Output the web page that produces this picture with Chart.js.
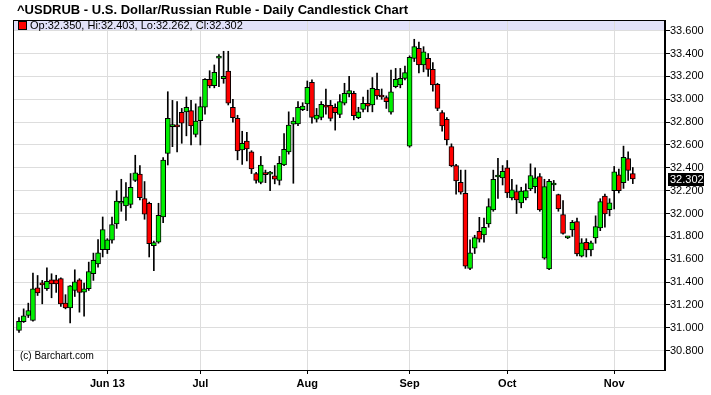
<!DOCTYPE html>
<html>
<head>
<meta charset="utf-8">
<script src="https://cdn.jsdelivr.net/npm/chart.js@4"></script>
<style>
html,body{margin:0;padding:0;background:#fff;}
#wrap{width:711px;height:395px;position:relative;}
</style>
</head>
<body>
<div id="wrap"><canvas id="c" width="711" height="395"></canvas></div>
<script>
// ---- data (daily candles, index 0 = first trading day shown) ----
const open = [30.977,31.053,31.108,31.064,31.35,31.38,31.342,31.42,31.42,31.43,
31.216,31.175,31.327,31.42,31.312,31.342,31.473,31.56,31.683,31.683,
31.766,31.91,32.09,32.067,32.08,32.29,32.345,32.13,32.09,31.72,
31.75,31.97,32.527,32.76,32.76,32.886,32.89,32.9,32.693,32.812,
32.93,33.175,33.12,33.36,33.18,33.247,32.93,32.833,32.556,32.635,
32.54,32.35,32.273,32.355,32.345,32.33,32.29,32.425,32.54,32.783,
32.784,32.91,32.959,33.148,32.825,32.842,32.95,32.948,32.93,32.868,
32.965,33.046,33.052,32.84,32.912,32.965,32.95,33.088,33.03,33.014,
32.886,33.11,33.125,33.183,32.59,33.358,33.446,33.3,33.358,33.262,
33.13,32.883,32.825,32.585,32.42,32.274,32.177,31.52,31.696,31.844,
31.812,31.91,32.031,32.32,32.312,32.4,32.137,32.193,32.093,32.137,
32.216,32.236,32.324,31.61,31.515,32.25,32.166,31.99,31.787,31.857,
31.93,31.626,31.749,31.682,31.787,31.874,32.152,32.035,32.2,32.339,
32.27,32.48,32.35];
const high = [31.09,31.166,31.216,31.479,31.458,31.415,31.525,31.473,31.46,31.438,
31.29,31.37,31.508,31.43,31.391,31.575,31.654,31.772,31.97,31.78,
31.97,32.2,32.3,32.27,32.35,32.51,32.42,32.28,32.1,31.76,
32.09,32.49,33.066,32.99,32.98,32.92,33.02,32.99,32.96,33.02,
33.18,33.25,33.3,33.39,33.42,33.42,33.0,32.86,32.72,32.71,
32.55,32.36,32.5,32.38,32.37,32.42,32.5,32.7,32.89,32.84,
32.98,32.97,33.16,33.17,32.92,32.98,33.09,32.99,32.96,33.04,
33.14,33.2,33.07,32.93,33.02,33.08,33.19,33.23,33.09,33.03,
33.256,33.27,33.27,33.29,33.38,33.525,33.5,33.46,33.4,33.32,
33.14,32.9,32.84,32.61,32.43,32.38,32.38,31.77,31.81,31.967,
31.96,32.13,32.38,32.483,32.42,32.464,32.3,32.25,32.23,32.26,
32.435,32.4,32.35,32.3,32.3,32.29,32.17,32.114,31.8,31.94,
31.96,31.78,31.78,31.76,31.98,32.13,32.17,32.13,32.412,32.39,
32.59,32.54,32.403];
const low = [30.96,31.047,31.09,31.058,31.283,31.21,31.327,31.263,31.31,31.187,
31.166,31.044,31.274,31.137,31.102,31.327,31.415,31.53,31.62,31.65,
31.74,31.87,32.02,31.94,32.05,32.28,32.12,31.95,31.62,31.5,
31.74,31.92,32.425,32.585,32.54,32.615,32.68,32.6,32.67,32.6,
32.87,33.1,33.1,33.11,33.14,32.95,32.8,32.47,32.43,32.46,
32.35,32.265,32.26,32.27,32.2,32.26,32.25,32.42,32.52,32.265,
32.77,32.9,32.9,32.79,32.8,32.82,32.87,32.81,32.73,32.84,
32.95,33.02,32.82,32.83,32.89,32.89,32.89,33.0,33.0,32.92,
32.87,33.1,33.1,33.17,32.58,33.33,33.23,33.24,33.2,33.07,
32.9,32.72,32.6,32.41,32.17,32.17,31.52,31.51,31.65,31.75,
31.75,31.88,32.02,32.133,32.25,32.14,32.12,32.0,32.05,32.12,
32.2,32.18,32.02,31.6,31.51,32.2,32.02,31.82,31.78,31.8,
31.63,31.62,31.62,31.63,31.74,31.85,31.88,31.98,32.04,32.18,
32.22,32.29,32.262];
const close = [31.056,31.105,31.152,31.342,31.306,31.376,31.406,31.385,31.385,31.21,
31.175,31.368,31.403,31.31,31.342,31.493,31.59,31.657,31.86,31.771,
31.904,32.11,32.10,32.146,32.23,32.356,32.14,31.994,31.737,31.745,
31.985,32.467,32.833,32.762,32.758,32.79,32.93,32.766,32.81,32.936,
33.175,33.116,33.236,33.378,33.2,32.965,32.84,32.547,32.615,32.565,
32.39,32.29,32.425,32.34,32.345,32.3,32.44,32.562,32.775,32.81,
32.93,32.94,33.105,32.842,32.862,32.956,32.93,32.833,32.883,32.98,
33.052,33.075,32.856,32.89,32.965,32.94,33.096,33.03,33.02,32.98,
33.066,33.175,33.184,33.233,33.367,33.46,33.3,33.416,33.262,33.125,
32.92,32.766,32.644,32.416,32.285,32.186,31.54,31.657,31.79,31.775,
31.88,32.06,32.3,32.32,32.37,32.18,32.207,32.12,32.196,32.2,
32.333,32.312,32.032,32.236,32.283,32.25,32.04,31.827,31.8,31.924,
31.647,31.743,31.682,31.743,31.886,32.105,31.997,32.094,32.365,32.2,
32.493,32.377,32.302];
// month ticks (index of first trading day of each month)
const monthTickIndex = [19, 39, 62, 84, 105, 128];
const monthTickLabels = ['Jun 13', 'Jul', 'Aug', 'Sep', 'Oct', 'Nov'];
const priceTicks = [30.8,31.0,31.2,31.4,31.6,31.8,32.0,32.2,32.4,32.6,32.8,33.0,33.2,33.4,33.6];
const titleText = '^USDRUB - U.S. Dollar/Russian Ruble - Daily Candlestick Chart';
const lastIdx = close.length - 1;
const legendText = 'Op:' + open[lastIdx].toFixed(3) + ', Hi:' + high[lastIdx].toFixed(3) +
  ', Lo:' + low[lastIdx].toFixed(3) + ', Cl:' + close[lastIdx].toFixed(3);

const UP = '#00f000', DOWN = '#ff0000';
const bodies = open.map((o, i) => ({x: i, y: [o, close[i]]}));
const wicks = open.map((o, i) => ({x: i, y: [low[i], high[i]]}));
const bodyColors = open.map((o, i) => close[i] >= o ? UP : DOWN);

Chart.defaults.font.family = '"Liberation Sans", Arial, sans-serif';
Chart.defaults.color = '#000';

const decor = {
  id: 'decor',
  beforeDraw(chart) {
    const ctx = chart.ctx, a = chart.chartArea;
    ctx.save();
    ctx.fillStyle = '#e2e2fa';
    ctx.fillRect(a.left, a.top, a.right - a.left, 11);
    ctx.restore();
  },
  afterDraw(chart) {
    const ctx = chart.ctx, a = chart.chartArea, y = chart.scales.y;
    ctx.save();
    // title
    ctx.fillStyle = '#000';
    ctx.font = 'bold 13px "Liberation Sans", Arial, sans-serif';
    ctx.textBaseline = 'middle';
    ctx.textAlign = 'left';
    ctx.fillText(titleText, 17, 10);
    // legend
    ctx.fillStyle = '#ff0000';
    ctx.fillRect(19, 22, 7, 7);
    ctx.strokeStyle = '#000';
    ctx.lineWidth = 1;
    ctx.strokeRect(18.5, 21.5, 8, 8);
    ctx.fillStyle = '#000';
    ctx.font = '11px "Liberation Sans", Arial, sans-serif';
    ctx.fillText(legendText, 30, 26);
    // copyright
    ctx.font = '10px "Liberation Sans", Arial, sans-serif';
    ctx.fillText('(c) Barchart.com', 20, 356);
    // plot border
    ctx.strokeStyle = '#000';
    ctx.strokeRect(a.left + 0.5, a.top + 0.5, a.right - a.left - 1, a.bottom - a.top);
    // last price box
    const py = Math.round(y.getPixelForValue(close[lastIdx]));
    ctx.fillStyle = '#000';
    ctx.fillRect(a.right + 3, py - 6, 36, 13);
    ctx.fillStyle = '#fff';
    ctx.font = '11px "Liberation Sans", Arial, sans-serif';
    ctx.fillText(close[lastIdx].toFixed(3), a.right + 5, py + 1);
    ctx.restore();
  }
};

new Chart(document.getElementById('c'), {
  type: 'bar',
  data: {
    datasets: [
      {data: bodies, backgroundColor: bodyColors, borderColor: '#000', borderWidth: 1,
       barThickness: 5, minBarLength: 2, grouped: false, order: 0, borderSkipped: false},
      {data: wicks, backgroundColor: '#000', borderWidth: 0,
       barThickness: 1, grouped: false, order: 1}
    ]
  },
  options: {
    responsive: false,
    animation: false,
    events: [],
    layout: {padding: {left: 13, top: 20, right: 0, bottom: 0}},
    plugins: {legend: {display: false}, tooltip: {enabled: false}, title: {display: false}},
    scales: {
      x: {
        type: 'linear', offset: false, min: -1.29, max: 138.925,
        afterBuildTicks: s => { s.ticks = monthTickIndex.map(v => ({value: v})); },
        afterFit: s => { s.height = 25; },
        ticks: {
          callback: v => monthTickLabels[monthTickIndex.indexOf(v)],
          font: {size: 11, weight: 'bold'}, color: '#000', padding: 3, maxRotation: 0, autoSkip: false
        },
        grid: {offset: false, color: '#dddddd', tickColor: '#000', tickLength: 4, lineWidth: 1},
        border: {display: true, color: '#000'}
      },
      y: {
        type: 'linear', position: 'right', min: 30.631, max: 33.6936,
        afterBuildTicks: s => { s.ticks = priceTicks.map(v => ({value: v})); },
        afterFit: s => { s.width = 46; },
        ticks: {
          callback: v => Number(v).toFixed(3),
          font: {size: 11}, color: '#000', padding: 0
        },
        grid: {color: '#dddddd', tickColor: '#000', tickLength: 5, lineWidth: 1},
        border: {display: true, color: '#000'}
      }
    }
  },
  plugins: [decor]
});
</script>
</body>
</html>
